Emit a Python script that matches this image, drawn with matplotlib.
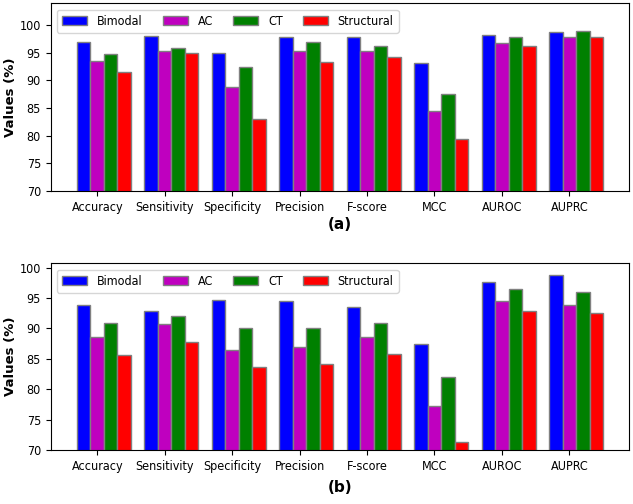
import matplotlib
matplotlib.use("Agg")
import matplotlib.pyplot as plt
import numpy as np

metrics = ["Accuracy", "Sensitivity", "Specificity", "Precision",
           "F-score", "MCC", "AUROC", "AUPRC"]
models = ["Bimodal", "AC", "CT", "Structural"]
colors = ["blue", "m", "green", "red"]

# panel (a)
bimodal_a = [97.0, 98.1, 95.0, 97.9, 97.9, 93.1, 98.3, 98.8]
ac_a = [93.5, 95.4, 88.9, 95.4, 95.4, 84.4, 96.7, 97.9]
ct_a = [94.7, 95.8, 92.5, 96.9, 96.3, 87.5, 97.9, 99.0]
structural_a = [91.6, 95.0, 83.1, 93.3, 94.2, 79.4, 96.3, 97.9]

# panel (b)
bimodal_b = [93.8, 92.8, 94.7, 94.5, 93.5, 87.5, 97.7, 98.8]
ac_b = [88.6, 90.7, 86.5, 86.9, 88.6, 77.2, 94.5, 93.9]
ct_b = [90.9, 92.0, 90.0, 90.0, 90.9, 82.0, 96.4, 96.0]
structural_b = [85.6, 87.7, 83.7, 84.1, 85.8, 71.3, 92.8, 92.6]

yticks = [70, 75, 80, 85, 90, 95, 100]

plt.rcParams["font.stretch"] = "condensed"

fig = plt.figure(figsize=(6.33, 5.04), dpi=100)
ax1 = fig.add_axes([0.0801, 0.6210, 0.9141, 0.3725])
ax2 = fig.add_axes([0.0801, 0.1071, 0.9141, 0.3705])

x = np.arange(len(metrics))
w = 0.2


def draw(ax, series, top, label, pad):
    for k, (vals, name, c) in enumerate(zip(series, models, colors)):
        ax.bar(x + (k - 1) * w, vals, w, color=c, edgecolor="grey",
               linewidth=1, label=name)
    ax.set_ylim(70, top)
    ax.set_yticks(yticks)
    ax.set_xticks(x)
    ax.set_xticklabels(metrics, fontsize=9)
    ax.tick_params(axis="y", labelsize=9)
    ax.set_ylabel("Values (%)", fontweight="bold", fontsize=9.5,
                  fontstretch="normal", labelpad=2)
    ax.set_xlabel(label, fontweight="bold", fontsize=11,
                  fontstretch="normal", labelpad=pad)
    ax.legend(loc="upper left", ncol=4, fontsize=9, columnspacing=1.6)


draw(ax1, [bimodal_a, ac_a, ct_a, structural_a], 103.95, "(a)", 2)
draw(ax2, [bimodal_b, ac_b, ct_b, structural_b], 100.7, "(b)", 5)

fig.savefig("out.png", dpi=100)
